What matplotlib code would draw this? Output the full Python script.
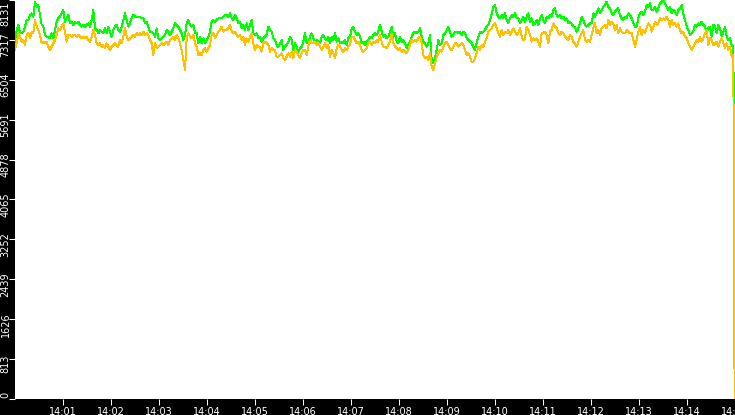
import matplotlib
matplotlib.use('Agg')
import matplotlib.pyplot as plt
import matplotlib.transforms as mtransforms
import numpy as np

plt.rcParams['font.family'] = 'DejaVu Sans'

# one sample about every 2.08 s, starting at 14:00:00
sample_step = 125 / 60
last_time = 899.5

green_values = [
    7248, 7520, 7622, 7452, 7452, 7486, 7588, 7723, 7723, 7825,
    7859, 7791, 8097, 7995, 8029, 7825, 7622, 7588, 7418, 7384,
    7384, 7350, 7452, 7350, 7520, 7689, 7757, 7791, 7859, 7927,
    7689, 7757, 7825, 7655, 7689, 7622, 7689, 7655, 7689, 7622,
    7588, 7622, 7588, 7622, 7655, 7588, 7723, 7927, 7554, 7520,
    7452, 7520, 7486, 7452, 7554, 7452, 7588, 7486, 7384, 7520,
    7588, 7622, 7520, 7486, 7588, 7723, 7859, 7723, 7588, 7655,
    7757, 7825, 7791, 7791, 7791, 7791, 7757, 7757, 7655, 7689,
    7588, 7486, 7486, 7452, 7384, 7554, 7350,
    7316, 7350, 7384, 7418, 7520, 7486, 7418, 7486, 7554, 7655,
    7622, 7588, 7520, 7452, 7316, 7418, 7655, 7723, 7622, 7588,
    7622, 7452, 7452, 7248, 7384, 7248, 7350, 7248, 7316, 7384,
    7486, 7689, 7723, 7689, 7723, 7757, 7757, 7757, 7791, 7825,
    7825, 7791, 7859, 7757, 7723, 7825, 7757, 7655, 7689, 7554,
    7622, 7520, 7655, 7520, 7622, 7723, 7452, 7418, 7452, 7350,
    7384, 7282, 7350, 7384, 7418, 7588, 7520, 7486, 7350, 7316,
    7214, 7180, 7248, 7316, 7112, 7180, 7214, 7282, 7384, 7316,
    7112, 7248, 7180, 7078, 7146, 7180, 7282,
    7452, 7248, 7282, 7384, 7452, 7350, 7248, 7316, 7282, 7248,
    7384, 7418, 7350, 7316, 7384, 7248, 7384, 7316, 7452, 7282,
    7350, 7248, 7282, 7248, 7316, 7214, 7350, 7384, 7554, 7588,
    7486, 7418, 7452, 7384, 7248, 7282, 7214, 7282, 7316, 7384,
    7350, 7418, 7452, 7418, 7486, 7622, 7486, 7384, 7418, 7350,
    7384, 7486, 7588, 7384, 7452, 7282, 7248, 7384, 7282, 7316,
    7248, 7146, 7214, 7282, 7384, 7452, 7486, 7452, 7486, 7554,
    7384, 7282, 7248, 7180, 7248, 7418, 6908, 6840, 6942, 7112,
    7316, 7214, 7248, 7418, 7452, 7520, 7588,
    7486, 7384, 7418, 7486, 7486, 7452, 7486, 7418, 7486, 7452,
    7350, 7316, 7282, 7248, 7180, 7112, 7248, 7384, 7486, 7452,
    7486, 7520, 7588, 7622, 7723, 7859, 7995, 8029, 7859, 7791,
    7757, 7825, 7757, 7859, 7723, 7655, 7757, 7825, 7791, 7859,
    7757, 7757, 7655, 7723, 7791, 7689, 7791, 7859, 7689, 7757,
    7622, 7655, 7723, 7622, 7757, 7825, 7723, 7655, 7791, 7757,
    7825, 7791, 7927, 7961, 7825, 7791, 7825, 7757, 7791, 7723,
    7757, 7655, 7689, 7655, 7588, 7588, 7486, 7554, 7655, 7791,
    7723, 7622, 7588, 7622, 7655, 7655, 7859,
    7791, 7859, 7961, 7859, 7927, 7995, 8029, 8097, 7995, 7961,
    7859, 7825, 7893, 7927, 7961, 7825, 7757, 7723, 7791, 7757,
    7859, 7825, 7757, 7655, 7588, 7588, 7757, 7859, 7893, 7825,
    7893, 8029, 7995, 8063, 7927, 7927, 7995, 7893, 7961, 8063,
    8097, 8131, 8063, 7995, 7927, 7995, 7859, 7927, 7893, 7825,
    7927, 7961, 8029, 7859, 7723, 7588, 7520, 7418, 7452, 7486,
    7622, 7588, 7655, 7622, 7689, 7622, 7588, 7486, 7554, 7588,
    7384, 7622, 7588, 7452, 7622, 7554, 7384, 7486, 7588, 7384,
    7316, 7350, 7214, 7180,
]
yellow_values = [
    7112, 7248, 7452, 7384, 7282, 7316, 7214, 7418, 7452, 7350,
    7486, 7452, 7723, 7588, 7520, 7418, 7248, 7282, 7248, 7282,
    7180, 7112, 7180, 7248, 7316, 7418, 7554, 7520, 7588, 7655,
    7486, 7282, 7418, 7418, 7384, 7418, 7418, 7384, 7418, 7384,
    7350, 7384, 7350, 7384, 7316, 7282, 7384, 7520, 7418, 7248,
    7214, 7248, 7180, 7214, 7146, 7248, 7180, 7112, 7180, 7214,
    7248, 7214, 7180, 7316, 7248, 7384, 7554, 7384, 7316, 7350,
    7384, 7418, 7384, 7452, 7418, 7452, 7418, 7486, 7418, 7452,
    7418, 7316, 7248, 7010, 7248, 7146, 7180,
    7214, 7248, 7214, 7248, 7282, 7214, 7316, 7350, 7384, 7316,
    7418, 7350, 7248, 7112, 6908, 6704, 7350, 7452, 7384, 7350,
    7418, 7248, 7180, 7010, 7044, 7010, 7112, 7146, 7078, 7146,
    7214, 7418, 7452, 7350, 7418, 7486, 7520, 7588, 7486, 7520,
    7520, 7554, 7622, 7486, 7452, 7486, 7418, 7384, 7418, 7316,
    7384, 7214, 7350, 7282, 7384, 7452, 7248, 7112, 7214, 7180,
    7180, 7078, 7248, 7282, 7248, 7214, 7078, 7146, 7112, 7112,
    6976, 6976, 7010, 7044, 6942, 6908, 6976, 7044, 6976, 7078,
    6942, 7112, 7078, 7010, 6942, 7044, 7112,
    7112, 7010, 7180, 7316, 7248, 7248, 7282, 7214, 7248, 7180,
    7112, 7180, 7248, 7146, 7214, 6976, 7112, 7044, 6942, 7146,
    7214, 7180, 7112, 7078, 7146, 7112, 7180, 7214, 7384, 7384,
    7316, 7248, 7282, 7214, 7112, 7078, 7112, 7146, 7248, 7282,
    7214, 7282, 7248, 7316, 7282, 7418, 7282, 7180, 7180, 7146,
    7214, 7282, 7452, 7248, 7180, 7146, 7112, 7146, 7078, 7112,
    7078, 7044, 7112, 7214, 7316, 7282, 7316, 7282, 7350, 7384,
    7248, 7010, 6942, 6976, 6908, 7044, 6772, 6704, 6840, 6976,
    7044, 7112, 7078, 7180, 7248, 7282, 7214,
    7146, 7112, 7180, 7248, 7248, 7180, 7214, 7248, 7214, 7112,
    7010, 7044, 6976, 6874, 6874, 6942, 7044, 7180, 7112, 7214,
    7180, 7282, 7350, 7486, 7520, 7554, 7622, 7655, 7554, 7452,
    7384, 7520, 7418, 7486, 7452, 7520, 7418, 7486, 7554, 7486,
    7418, 7452, 7554, 7384, 7316, 7350, 7588, 7520, 7418, 7282,
    7350, 7316, 7350, 7282, 7180, 7452, 7452, 7486, 7418, 7248,
    7486, 7520, 7655, 7588, 7554, 7452, 7418, 7486, 7452, 7384,
    7350, 7316, 7418, 7384, 7282, 7248, 7180, 7282, 7384, 7452,
    7520, 7316, 7282, 7316, 7282, 7418, 7554,
    7655, 7452, 7520, 7418, 7554, 7588, 7622, 7554, 7723, 7622,
    7689, 7655, 7520, 7622, 7452, 7554, 7486, 7452, 7452, 7520,
    7486, 7452, 7452, 7316, 7180, 7316, 7486, 7588, 7418, 7520,
    7452, 7554, 7655, 7622, 7486, 7588, 7689, 7622, 7655, 7757,
    7723, 7757, 7723, 7791, 7723, 7588, 7723, 7622, 7655, 7588,
    7655, 7520, 7452, 7486, 7384, 7350, 7248, 7180, 7112, 7180,
    7248, 7316, 7282, 7384, 7282, 7350, 7452, 7520, 7214, 7350,
    7316, 7214, 7248, 7282, 7180, 7282, 7350, 7248, 7146, 7248,
    7112, 7180, 6976, 7010,
]
# the last sample drops
green_last = 3600
yellow_last = 0

y_max = 8131
y_tick_labels = ['0', '813', '1626', '2439', '3252', '4065',
                 '4878', '5691', '6504', '7317', '8131']
x_tick_minutes = list(range(1, 16))

green_t = np.append(np.arange(len(green_values)) * sample_step, last_time)
green_y = np.append(green_values, green_last)
yellow_t = np.append(np.arange(len(yellow_values)) * sample_step, last_time)
yellow_y = np.append(yellow_values, yellow_last)

W, H = 735, 415
fig = plt.figure(figsize=(W / 100, H / 100), dpi=100, facecolor='black')
ax = fig.add_axes([15 / W, 16 / H, 720 / W, 399 / H])
ax.set_facecolor('white')

ax.plot(green_t, green_y, color='#00ff00', lw=0.7, antialiased=False)
ax.plot(yellow_t, yellow_y, color='#ffc000', lw=0.7, antialiased=False)

ax.set_xlim(0, 900)
ax.set_ylim(0, y_max)
for s in ax.spines.values():
    s.set_visible(False)

ax.set_xticks([m * 60 for m in x_tick_minutes],
              ['14:%02d' % m for m in x_tick_minutes])
y_ticks = [k * y_max / 10 for k in range(11)]
ax.set_yticks(y_ticks)
ax.tick_params(axis='both', direction='out', length=4.2, width=0.75,
               color='white', labelcolor='white', labelsize=7)
ax.tick_params(axis='x', pad=1.2)
ax.tick_params(axis='y', labelleft=False)

# rotated y labels, drawn by hand so they can sit just below each tick
trans = mtransforms.blended_transform_factory(fig.transFigure, ax.transData)
for i, (v, lab) in enumerate(zip(y_ticks, y_tick_labels)):
    dy = -5
    va = 'center'
    if i == 0:
        dy, va = 1, 'bottom'
    elif i == len(y_ticks) - 1:
        dy, va = -2, 'top'
    off = mtransforms.ScaledTranslation(0, dy / 100, fig.dpi_scale_trans)
    ax.text(10.5 / W, v, lab, transform=trans + off, rotation=90,
            ha='right', va=va, color='white', fontsize=7, clip_on=False)

fig.savefig('out.png', dpi=100, facecolor='black')
